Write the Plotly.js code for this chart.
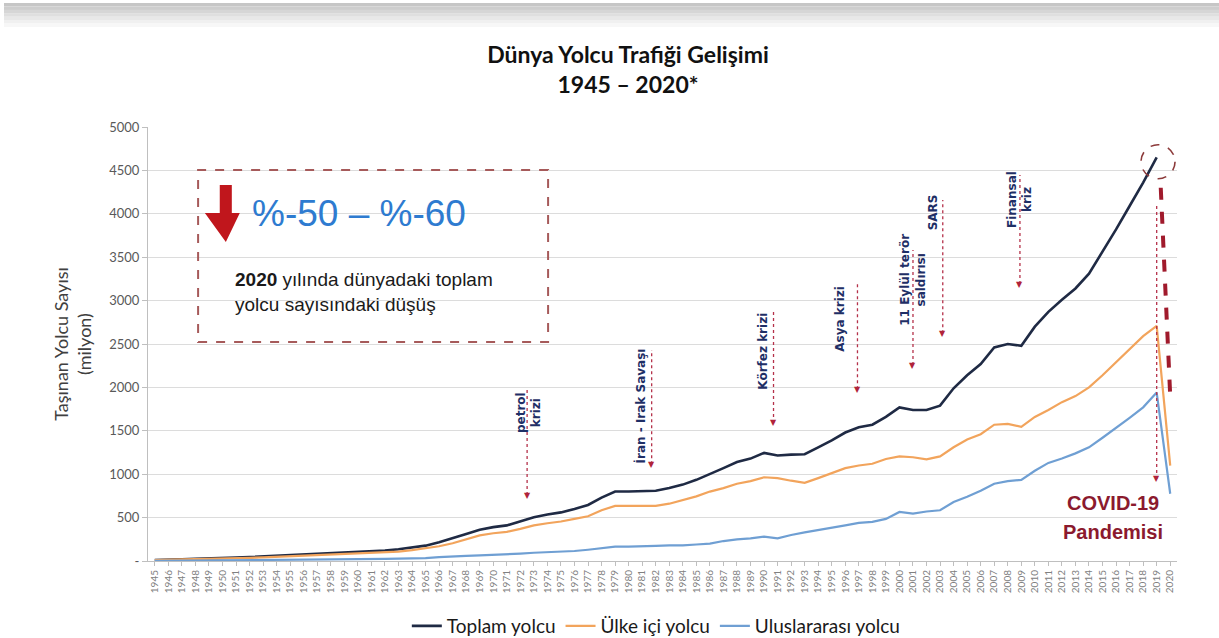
<!DOCTYPE html>
<html>
<head>
<meta charset="utf-8">
<script src="https://cdn.plot.ly/plotly-3.0.1.min.js"></script>
<style>html,body{margin:0;padding:0;background:#fff;}#chart{width:1219px;height:638px;}</style>
</head>
<body>
<div id="chart"></div>
<script>
// ---- DATA ----
const years = [1945,1946,1947,1948,1949,1950,1951,1952,1953,1954,1955,1956,1957,1958,1959,1960,1961,1962,1963,1964,1965,1966,1967,1968,1969,1970,1971,1972,1973,1974,1975,1976,1977,1978,1979,1980,1981,1982,1983,1984,1985,1986,1987,1988,1989,1990,1991,1992,1993,1994,1995,1996,1997,1998,1999,2000,2001,2002,2003,2004,2005,2006,2007,2008,2009,2010,2011,2012,2013,2014,2015,2016,2017,2018,2019,2020];

const toplam = [10,18,21,24,27,31,40,45,52,59,68,76,86,88,99,106,111,121,135,155,177,215,260,310,360,390,410,455,505,535,560,600,645,730,800,800,805,810,840,880,935,1000,1070,1140,1180,1245,1215,1225,1230,1310,1390,1480,1540,1570,1660,1770,1740,1740,1790,1990,2140,2270,2460,2500,2480,2700,2870,3010,3140,3310,3560,3820,4090,4360,4650,null];

const ulkeIci = [9,16,18,21,23,25,33,37,42,48,55,62,70,71,80,85,89,97,108,125,145,170,205,250,295,320,335,370,410,435,455,485,515,585,635,635,632,635,660,700,745,800,840,890,920,965,955,925,900,955,1010,1070,1100,1120,1175,1205,1195,1170,1205,1310,1400,1460,1570,1580,1545,1660,1740,1830,1900,2000,2140,2290,2440,2590,2710,1100];

const uluslararasi = [1,2,3,3,4,6,7,8,10,11,13,14,16,17,19,21,22,24,27,30,32,45,55,60,65,70,75,85,95,100,105,115,130,145,165,165,173,175,180,180,190,200,230,250,260,280,260,300,330,355,380,410,440,450,485,565,545,570,585,680,740,810,890,920,935,1040,1130,1180,1240,1310,1420,1530,1650,1770,1940,775];

const seriesNames = ['Toplam yolcu','Ülke içi yolcu','Uluslararası yolcu'];
const seriesColors = ['#1f2a44','#f2a45c','#6f9fd3'];

const yTickVals = [0,500,1000,1500,2000,2500,3000,3500,4000,4500,5000];
const yTickText = ['-','500','1000','1500','2000','2500','3000','3500','4000','4500','5000'];

const crisisLabels = ['petrol<br>krizi','İran - Irak Savaşı','Körfez krizi','Asya krizi','11 Eylül terör<br>saldırısı','SARS','Finansal<br>kriz'];

// ---- LAYOUT HELPERS (positions/styles) ----
const crisisText = [
  {x:1972.6, y:1710}, {x:1980.9, y:1790}, {x:1989.9, y:2420}, {x:1995.6, y:2790},
  {x:2001.0, y:3240}, {x:2002.5, y:4020}, {x:2008.9, y:4170}
];
const crisisLines = [
  {x:1972.5, y1:2005, y0:760}, {x:1981.7, y1:2430, y0:1115}, {x:1990.7, y1:2870, y0:1590},
  {x:1996.9, y1:3214, y0:1980}, {x:2001.0, y1:3583, y0:2257}, {x:2003.2, y1:4159, y0:2625},
  {x:2008.9, y1:4447, y0:3190}, {x:2019.0, y1:4101, y0:945}
];

const traces = [toplam, ulkeIci, uluslararasi].map((vals,i)=>({
  type:'scatter', mode:'lines', x:years, y:vals, name:seriesNames[i],
  line:{color:seriesColors[i], width: i===0?2.6:2.2}, connectgaps:false,
  hoverinfo:'x+y+name'
}));

const shapes = [];
// top gray band (screenshot artifact)
const bandCols = ['#c6c6c6','#cdcdcd','#d6d6d6','#dfdfdf','#e8e8e8','#f0f0f0','#f7f7f7'];
bandCols.forEach((c,i)=>{
  const pyTop = 3 + i*3.4, pyBot = pyTop + 3.6;
  shapes.push({type:'rect', xref:'paper', yref:'paper', x0:(4-148)/1029, x1:(1219-148)/1029,
    y0:(561-pyBot)/434, y1:(561-pyTop)/434, fillcolor:c, line:{width:0}, layer:'below'});
});
// dashed info box
shapes.push({type:'rect', xref:'x', yref:'y', x0:1948.2, x1:1974.05, y0:2523, y1:4505,
  line:{color:'#a65a5a', width:2, dash:'dash'}, fillcolor:'rgba(255,255,255,0)'});
// red down arrow
shapes.push({type:'path', xref:'x', yref:'y',
  path:'M 1949.8 4332 L 1950.69 4332 L 1950.69 4009 L 1951.28 4009 L 1950.25 3675 L 1948.7 4009 L 1949.8 4009 Z',
  fillcolor:'#c0161c', line:{width:0}});
// crisis dotted lines
crisisLines.forEach(c=>{
  shapes.push({type:'line', xref:'x', yref:'y', x0:c.x, x1:c.x, y0:c.y0, y1:c.y1,
    line:{color:'#b5314a', width:1.3, dash:'dot'}});
});
// dashed circle round 2019 peak
shapes.push({type:'circle', xref:'x', yref:'y', xsizemode:'pixel', ysizemode:'pixel',
  xanchor:2019.1, yanchor:4600, x0:-17, x1:17, y0:-17, y1:17,
  line:{color:'#8c3a3a', width:1.6, dash:'dash'}});
// big dashed drop line
shapes.push({type:'line', xref:'x', yref:'y', x0:2019.3, y0:4300, x1:2020.0, y1:1900,
  line:{color:'#a01a2c', width:4, dash:'dash'}});

const annotations = [];
crisisLabels.forEach((t,i)=>{
  annotations.push({x:crisisText[i].x, y:crisisText[i].y, xref:'x', yref:'y', text:t,
    showarrow:false, textangle:-90, align:'center',
    font:{family:'DejaVu Sans, Verdana, sans-serif', size:12, color:'#1f2f66', weight:700}});
});
crisisLines.forEach(c=>{
  annotations.push({x:c.x, y:c.y0, xref:'x', yref:'y', text:'▼', showarrow:false,
    yanchor:'middle', font:{family:'DejaVu Sans', size:8, color:'#b0243a'}});
});
annotations.push({x:1952.0, y:4009, xref:'x', yref:'y', xanchor:'left', yanchor:'middle',
  text:'%-50 – %-60', showarrow:false,
  font:{family:'Liberation Sans, Arial, sans-serif', size:37, color:'#2e7bd0'}});
annotations.push({x:1950.76, y:3099, xref:'x', yref:'y', xanchor:'left', yanchor:'middle', align:'left',
  text:'<b>2020</b> yılında dünyadaki toplam<br>yolcu sayısındaki düşüş', showarrow:false,
  font:{family:'Liberation Sans, Arial, sans-serif', size:19, color:'#1a1a1a'}});
annotations.push({x:2015.8, y:668, xref:'x', yref:'y', xanchor:'center', yanchor:'middle',
  text:'<b>COVID-19</b>', showarrow:false,
  font:{family:'Liberation Sans, Arial, sans-serif', size:20, color:'#8b1a2e'}});
annotations.push({x:2015.8, y:335, xref:'x', yref:'y', xanchor:'center', yanchor:'middle',
  text:'<b>Pandemisi</b>', showarrow:false,
  font:{family:'Liberation Sans, Arial, sans-serif', size:20, color:'#8b1a2e'}});

const layout = {
  width:1219, height:638,
  margin:{l:148, r:42, t:127, b:77, autoexpand:false},
  paper_bgcolor:'#ffffff', plot_bgcolor:'#ffffff',
  title:{text:'<b>Dünya Yolcu Trafiği Gelişimi</b><br><b>1945 – 2020*</b>',
    font:{family:'Lato, Open Sans, sans-serif', size:23, color:'#111111'},
    x:(628-148)/1029, xref:'paper', xanchor:'center', y:1-63/638, yref:'container', yanchor:'middle'},
  xaxis:{range:[1944.5,2020.5], tickmode:'array', tickvals:years, ticktext:years.map(String),
    tickangle:-90, tickfont:{family:'Lato, sans-serif', size:10, color:'#808080'},
    showgrid:false, zeroline:false, showline:true, linecolor:'#bfbfbf', linewidth:1,
    ticks:'outside', ticklen:4, tickcolor:'#bfbfbf', fixedrange:true, automargin:false},
  yaxis:{range:[0,5000], tickmode:'array', tickvals:yTickVals, ticktext:yTickText,
    tickfont:{family:'Lato, sans-serif', size:13, color:'#595959'},
    showgrid:true, gridcolor:'#dcdcdc', gridwidth:1, zeroline:false,
    showline:true, linecolor:'#bfbfbf', linewidth:1, ticks:'outside', ticklen:5, tickcolor:'#bfbfbf',
    title:{text:'Taşınan Yolcu Sayısı<br>(milyon)', standoff:12,
      font:{family:'Lato, sans-serif', size:18, color:'#404040'}}, fixedrange:true, automargin:false},
  legend:{orientation:'h', x:0.494, xanchor:'center', yref:'container', y:1-626/638, yanchor:'middle',
    font:{family:'Lato, sans-serif', size:19, color:'#1a1a1a'}, itemwidth:30, traceorder:'normal'},
  shapes:shapes, annotations:annotations, showlegend:true
};

Plotly.newPlot('chart', traces, layout, {displayModeBar:false, staticPlot:true});
</script>
</body>
</html>
